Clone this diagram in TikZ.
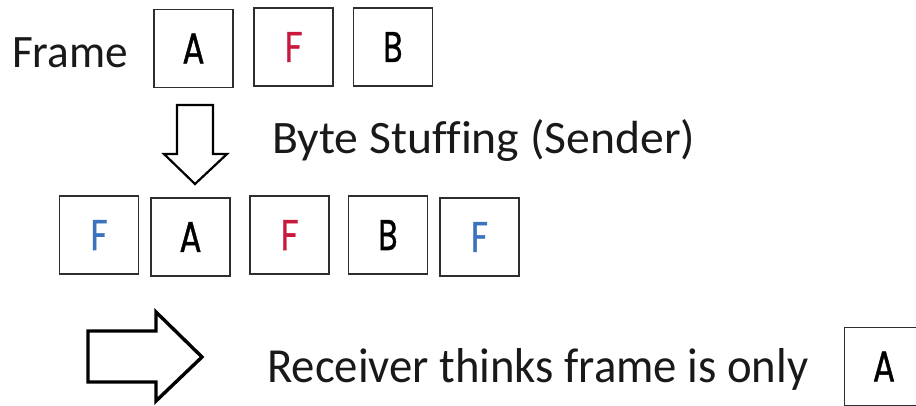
\documentclass[tikz,border=0pt]{standalone}
\usepackage{fontspec}
\usepackage{graphicx}
\newfontfamily\handfont[Ligatures=NoCommon]{Carlito}
\newfontfamily\boxfont[FakeBold=1.2]{Poppins}
\definecolor{fred}{HTML}{C8193C}
\definecolor{fblue}{HTML}{3B74BC}
\definecolor{boxline}{HTML}{2E2E2E}
\newcommand\fitw[2]{\resizebox{#1pt}{\height}{#2}}
\tikzset{
  cell/.style={draw=boxline, line width=1.7pt, minimum width=79pt, minimum height=78pt, inner sep=0pt, fill=white},
  letter/.style={font=\boxfont\fontsize{43}{43}\selectfont},
  hand/.style={font=\handfont\fontsize{46.5}{46.5}\selectfont, anchor=base west, inner sep=0pt, text=black!90},
  bigarrow/.style={draw=black, fill=white, line join=miter},
}
\begin{document}
\begin{tikzpicture}[x=1pt,y=-1pt]
\useasboundingbox (0,0) rectangle (916,405);
\clip (0,0) rectangle (916,405);
% top row
\node[hand] (frame) at (12,67) {\fitw{116}{Frame}};
\node[cell,letter] (tA) at (193.5,48.5) {\fitw{22}{A}};
\node[cell,letter,text=fred] (tF) at (293.5,47) {\fitw{18}{F}};
\node[cell,letter] (tB) at (393,47) {\fitw{19}{B}};
% down arrow
\draw[bigarrow, line width=2.2pt] (177,105) -- (213,105) -- (213,154) -- (227,154) -- (195,184) -- (164,154) -- (177,154) -- cycle;
\node[hand] (stuff) at (272,153) {\fitw{423}{Byte Stuffing (Sender)}};
% second row
\node[cell,letter,text=fblue] (sF1) at (99,235) {\fitw{17}{F}};
\node[cell,letter] (sA) at (190.5,237) {\fitw{22}{A}};
\node[cell,letter,text=fred] (sF2) at (289.5,235) {\fitw{18}{F}};
\node[cell,letter] (sB) at (388,235) {\fitw{19}{B}};
\node[cell,letter,text=fblue] (sF3) at (479.5,237) {\fitw{17}{F}};
% right arrow
\draw[bigarrow, line width=3.4pt] (88,331) -- (156,331) -- (156,312) -- (202,357) -- (156,401) -- (156,382) -- (88,382) -- cycle;
\node[hand, font=\handfont\fontsize{49}{49}\selectfont] (recv) at (267,382) {\fitw{541}{Receiver thinks frame is only}};
\node[cell,letter] (rA) at (884,366.5) {\fitw{22}{A}};
\end{tikzpicture}
\end{document}
